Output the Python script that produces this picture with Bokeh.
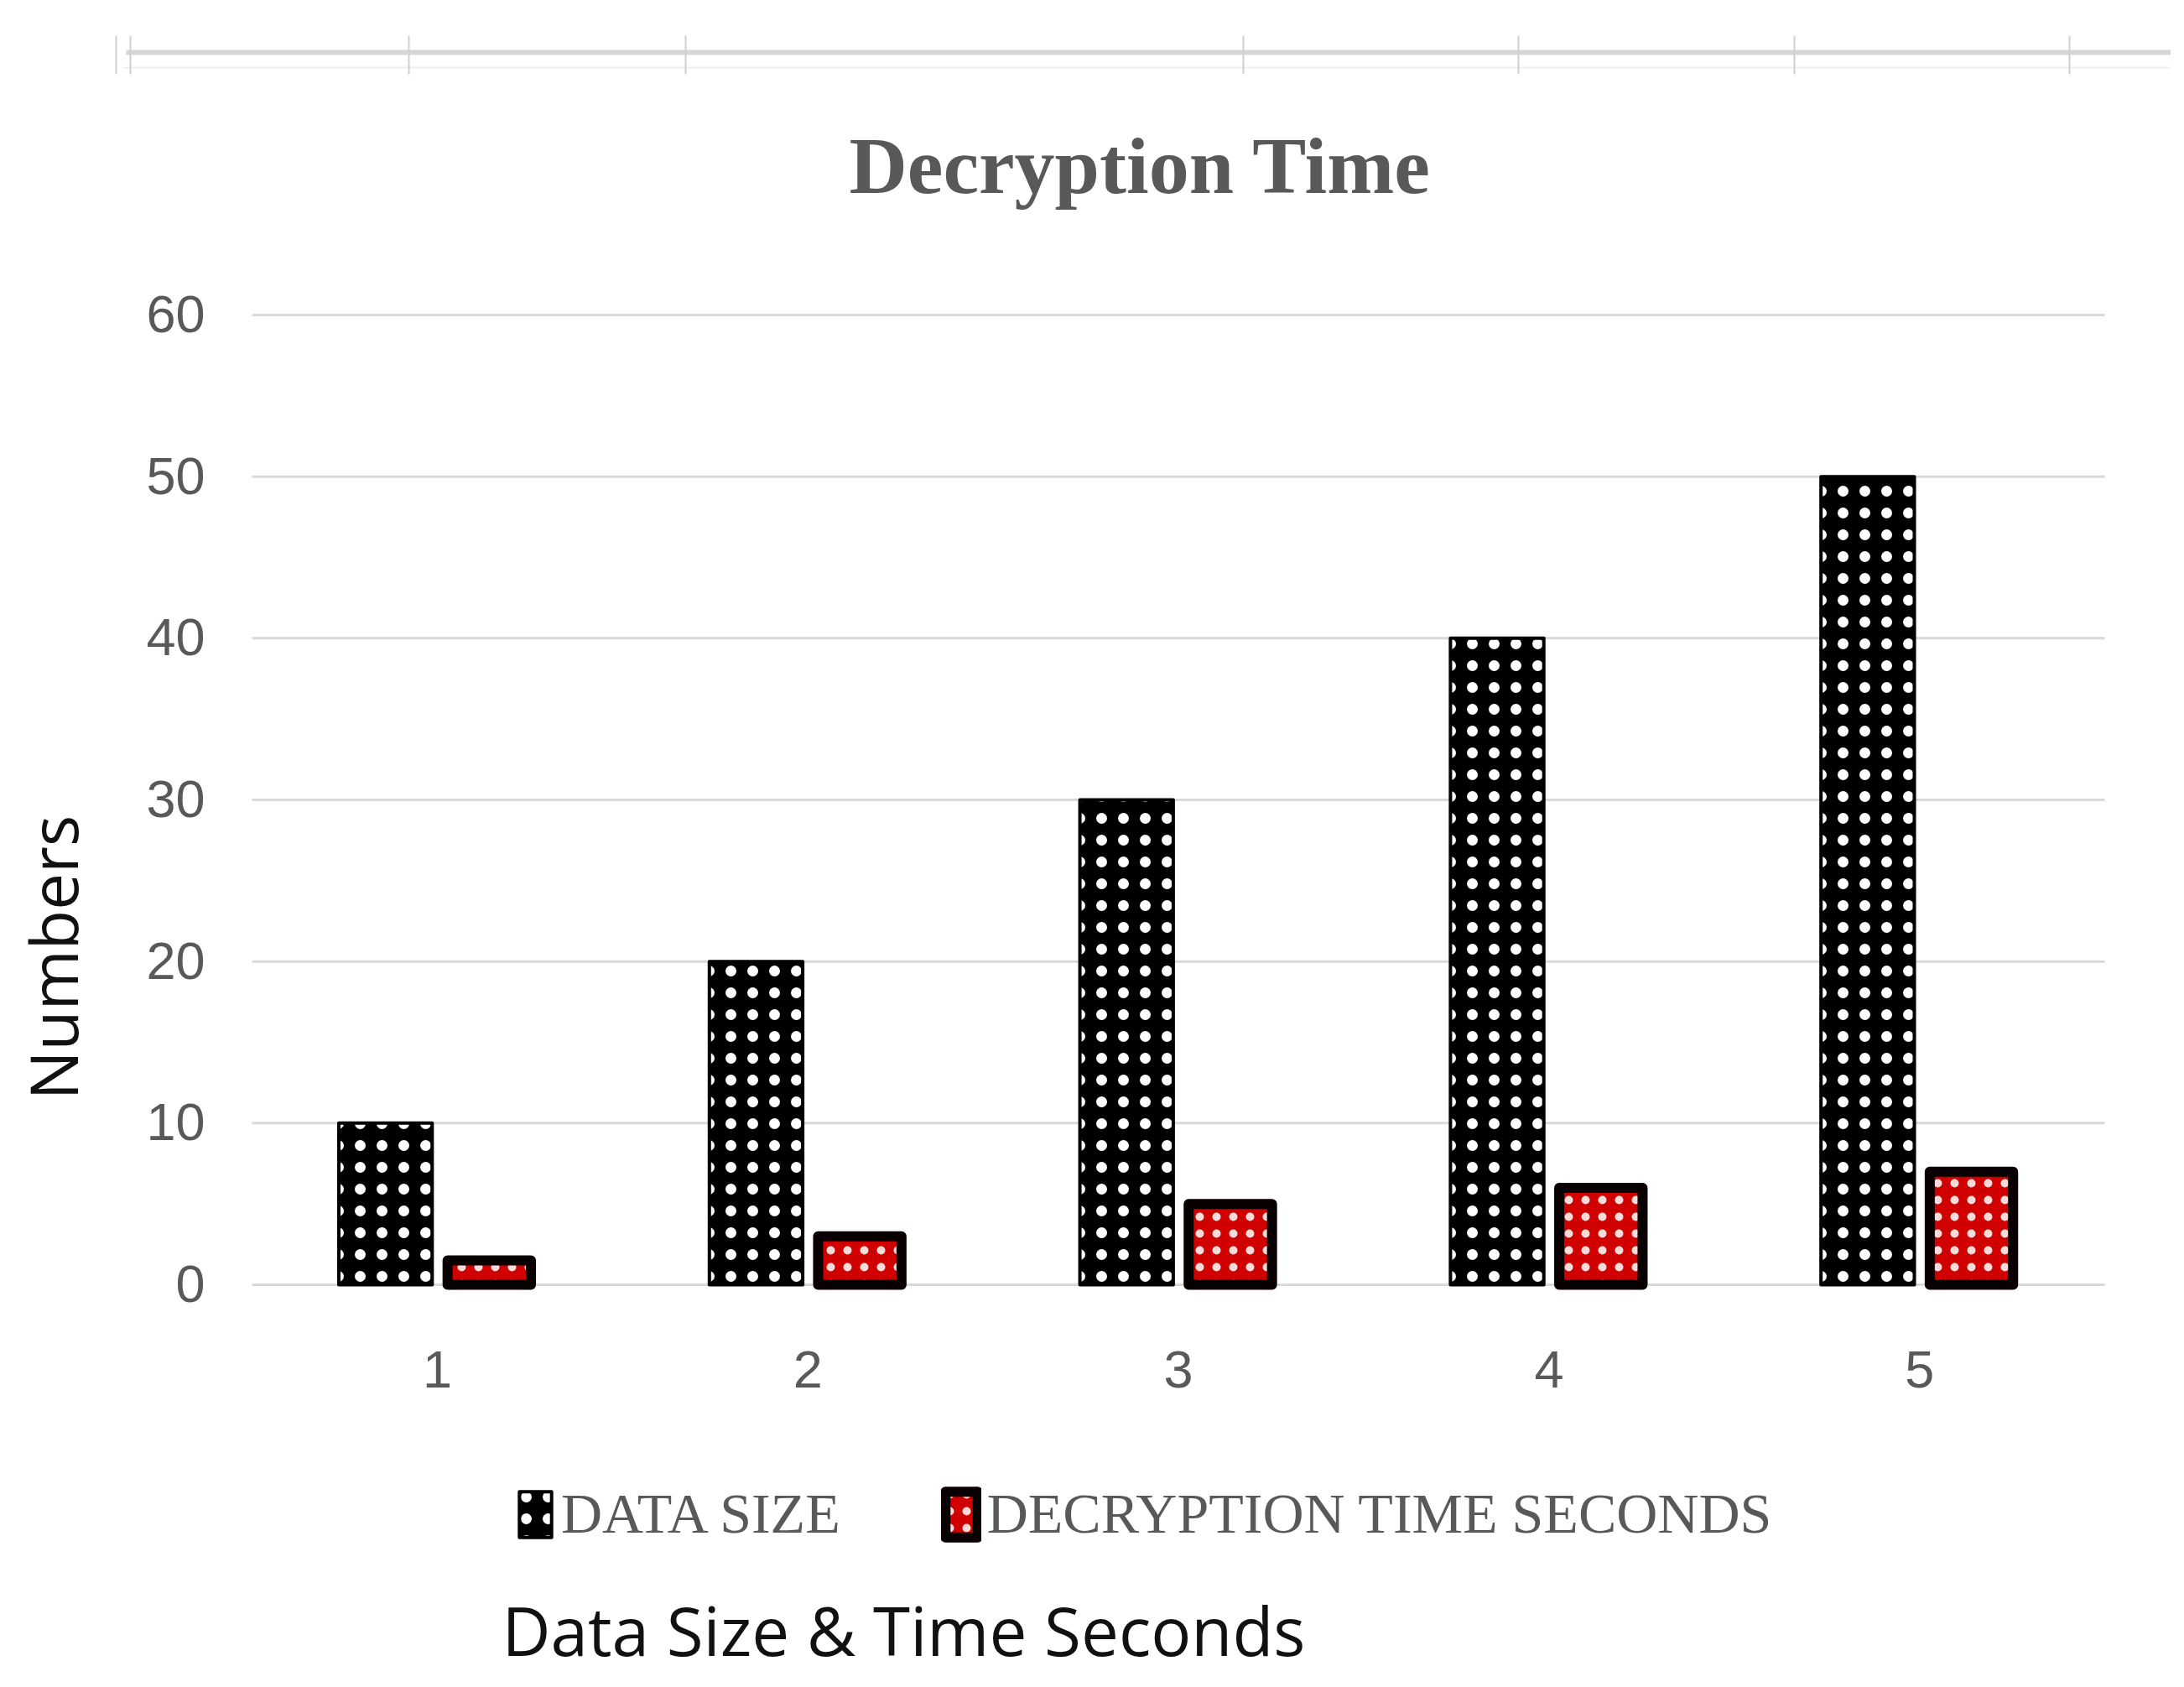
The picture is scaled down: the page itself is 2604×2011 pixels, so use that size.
import math
from bokeh.plotting import figure
from bokeh.models import ColumnDataSource, Range1d, Legend, LegendItem, Label
from bokeh.transform import dodge
from bokeh.core.properties import value
from bokeh.embed import file_html
from bokeh.resources import INLINE

# ---------------- data ----------------
categories = ["1", "2", "3", "4", "5"]
data_size = [10, 20, 30, 40, 50]
decryption_time_seconds = [1.5, 3, 5, 6, 7]
y_ticks = [0, 10, 20, 30, 40, 50, 60]
series_names = ["DATA SIZE", "DECRYPTION TIME SECONDS"]
title_text = "Decryption Time"
x_label = "Data Size & Time Seconds"
y_label = "Numbers"
# decorative ruler strip at the top of the screenshot (page px)
ruler_tick_x = [138, 155, 487, 817, 1482, 1810, 2139, 2467]

# ---------------- geometry (page pixels -> data) ----------------
FW, FH = 2588, 2003           # figure size
ORG = 0                       # page position of the figure's top-left corner
Y0 = 1531                     # page y of value 0
K = 1156 / 60                 # px per unit
X0 = 521                      # page x of first category centre
CW = 441.8                    # px per category


def py2v(py):
    return (Y0 - py) / K


def px2i(px):
    return 1 + (px - X0) / CW


x_pos = [i + 1 for i in range(len(categories))]

p = figure(width=FW, height=FH,
           x_range=Range1d(px2i(ORG), px2i(ORG + FW)),
           y_range=Range1d(py2v(ORG + FH), py2v(ORG)),
           toolbar_location=None, output_backend="svg", title=None,
           min_border=0, x_axis_location=None, y_axis_location=None)
p.grid.visible = False
p.outline_line_color = None
p.background_fill_color = "white"

# ---------------- ruler strip (decoration) ----------------
p.line(x=[px2i(147), px2i(2604)], y=[py2v(80), py2v(80)], line_width=2, color="#eeeeee")
p.line(x=[px2i(150), px2i(2604)], y=[py2v(62), py2v(62)], line_width=6, color="#d6d6d6")
p.segment(x0=[px2i(t) for t in ruler_tick_x], x1=[px2i(t) for t in ruler_tick_x],
          y0=[py2v(42)] * len(ruler_tick_x), y1=[py2v(88)] * len(ruler_tick_x),
          line_width=2, color="#d0d0d0")

# ---------------- gridlines & tick labels ----------------
n = len(y_ticks)
p.segment(x0=[0.5] * n, x1=[len(categories) + 0.5] * n, y0=y_ticks, y1=y_ticks,
          line_width=3, color="#d9d9d9")
p.text(x=[0.5] * n, y=y_ticks, text=[str(t) for t in y_ticks], x_offset=-56, y_offset=-1,
       text_align="right", text_baseline="alphabetic",
       text_font=value("Liberation Sans"), text_font_size="63px", text_color="#595959")
p.text(x=x_pos, y=[0] * len(categories), text=categories, y_offset=101,
       text_align="center", text_baseline="alphabetic",
       text_font=value("Liberation Sans"), text_font_size="63px", text_color="#595959")

# ---------------- bars ----------------
src = ColumnDataSource(dict(x=x_pos, size=data_size, t=decryption_time_seconds))
r1 = p.vbar(x=dodge('x', -0.14), top='size', width=0.252, source=src,
            fill_color="black", line_color="black", line_width=4, line_join="round",
            hatch_pattern="dot", hatch_color="white", hatch_scale=26, hatch_weight=1)
r2 = p.vbar(x=dodge('x', 0.14), top='t', width=0.225, source=src,
            fill_color="#d10000", line_color="#080000", line_width=12, line_join="round",
            hatch_pattern="dot", hatch_color="#ffd8d8", hatch_scale=20, hatch_weight=1)

# ---------------- legend ----------------
legend = Legend(items=[LegendItem(label=series_names[0], renderers=[r1]),
                       LegendItem(label=series_names[1], renderers=[r2])],
                location=(614, 159), orientation="horizontal",
                glyph_width=48, glyph_height=68, label_standoff=7, spacing=120,
                padding=0, margin=0, border_line_color=None, background_fill_alpha=0,
                label_text_font="Liberation Serif", label_text_font_size="68px",
                label_text_color="#595959")
p.add_layout(legend)

# ---------------- texts ----------------
p.add_layout(Label(x=px2i(1359), y=py2v(197), text=title_text,
                   text_font="Liberation Serif", text_font_style="bold",
                   text_font_size="96px", text_color="#595959",
                   text_align="center", text_baseline="alphabetic"))
p.add_layout(Label(x=px2i(62), y=py2v(1141), text=y_label, angle=math.pi / 2,
                   text_font="Open Sans", text_font_size="78px", text_color="#111111",
                   text_align="center", text_baseline="alphabetic"))
p.add_layout(Label(x=px2i(598), y=py2v(1942), text=x_label,
                   text_font="Open Sans", text_font_size="80px", text_color="#111111",
                   text_align="left", text_baseline="alphabetic"))

open("out.html", "w").write(file_html(p, INLINE))
